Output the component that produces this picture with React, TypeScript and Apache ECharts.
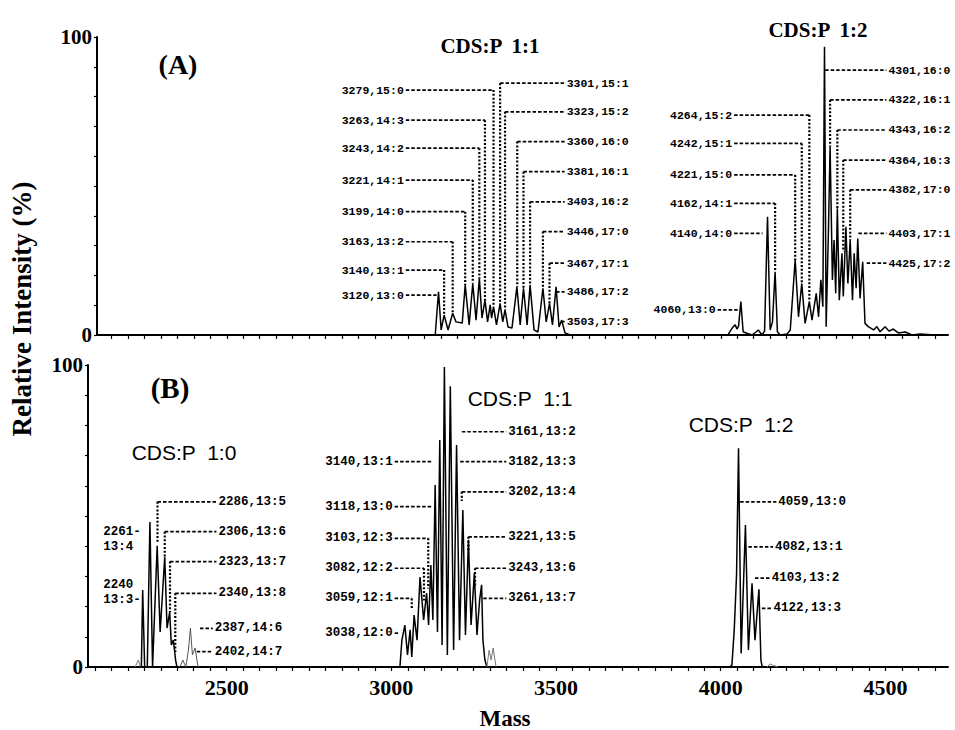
import React, { useEffect, useRef } from 'react';
import * as echarts from 'echarts';

// ---- axis ticks ----
const massTickLabels = [2500, 3000, 3500, 4000, 4500];
const minorMassTicks: number[] = [];
for (let v = 2100; v <= 4650; v += 50) minorMassTicks.push(v);

// ---- Panel (A) spectrum: [mass, relative intensity %] ----
const traceA1 = [
  [3133, 0], [3143, 14.5], [3151, 1.7], [3160, 6.7], [3172, 1.7], [3186, 7.3], [3196, 4.4], [3215, 4.0],
  [3224, 16.8], [3236, 3.4], [3247, 17.3], [3257, 5.0], [3267, 19.0], [3275, 5.7], [3284, 11.7], [3292, 4.4],
  [3300, 10.1], [3304, 5.7], [3310, 9.5], [3319, 3.4], [3330, 10.6], [3338, 4.4], [3345, 8.4], [3354, 2.7],
  [3366, 2.3], [3381, 16.2], [3391, 3.4], [3401, 15.7], [3412, 3.4], [3421, 16.8], [3433, 1.7], [3445, 1.0],
  [3460, 15.7], [3470, 4.4], [3480, 10.6], [3489, 3.4], [3500, 16.2], [3509, 2.7], [3517, 5.0], [3527, 0.7],
  [3543, 0],
];
const traceA2 = [
  [4022, 0], [4031, 1.7], [4038, 2.8], [4044, 3.4], [4049, 2.0], [4054, 3.0], [4061, 11.2], [4068, 1.1],
  [4079, 0.6], [4095, 0], [4107, 1.0], [4114, 1.7], [4125, 0], [4133, 1.3], [4142, 39.7], [4150, 1.7],
  [4157, 4.4], [4165, 21.2], [4172, 1.1], [4180, 0], [4201, 0.3], [4211, 1.7], [4226, 25.2], [4236, 6.1],
  [4246, 17.3], [4256, 3.9], [4269, 11.2], [4277, 5.0], [4290, 14.0], [4297, 6.1], [4304, 18.5], [4310, 9.5],
  [4315, 96.7], [4320, 2.8], [4327, 35.2], [4332, 63.2], [4339, 18.5], [4344, 31.9], [4349, 14.0], [4354, 42.5],
  [4360, 11.7], [4368, 27.4], [4372, 12.9], [4380, 36.3], [4386, 17.3], [4393, 31.9], [4400, 11.7], [4405, 27.4],
  [4411, 15.7], [4416, 32.4], [4423, 12.3], [4431, 24.6], [4438, 3.9], [4448, 2.8], [4464, 1.7], [4474, 2.8],
  [4484, 1.1], [4499, 2.8], [4511, 1.3], [4524, 2.0], [4539, 0.7], [4560, 1.0], [4581, 0], [4605, 0.3], [4651, 0],
];

// ---- Panel (B) spectrum ----
const traceB1 = [
  [2241, 0], [2245, 25.5], [2251, 0], [2259, 0], [2267, 48.0], [2275, 0], [2289, 40.1], [2298, 11.6],
  [2312, 36.4], [2319, 12.9], [2327, 18.2], [2332, 7.3], [2338, 8.9], [2345, 2.3], [2349, 0],
];
const noiseB1a = [[2222, 0], [2232, 2.3], [2238, 0]];
const noiseB1b = [[2358, 0], [2367, 2.3], [2376, 0], [2384, 5.6], [2390, 12.9], [2396, 4.0], [2404, 6.3], [2413, 0]];
const traceB2 = [
  [3026, 0], [3032, 8.9], [3041, 13.9], [3049, 4.0], [3057, 12.3], [3062, 3.3], [3069, 17.2], [3078, 8.9],
  [3087, 29.8], [3098, 15.6], [3107, 24.5], [3113, 13.9], [3120, 33.8], [3126, 15.6], [3133, 60.3], [3140, 11.6],
  [3147, 75.2], [3154, 7.3], [3161, 99.3], [3170, 4.0], [3179, 93.0], [3189, 5.6], [3198, 73.5], [3207, 8.9],
  [3217, 52.0], [3225, 10.6], [3234, 42.1], [3242, 13.9], [3252, 31.1], [3260, 10.6], [3268, 22.2], [3274, 27.2],
  [3278, 8.9], [3284, 2.3], [3290, 0],
];
const noiseB2 = [[3290, 0], [3297, 5.6], [3303, 2.3], [3309, 6.3], [3318, 0]];
const traceB3 = [
  [4028, 0], [4034, 0.7], [4041, 12.3], [4048, 30.5], [4054, 72.4], [4062, 4.5], [4075, 47.0], [4084, 5.6],
  [4095, 27.7], [4104, 8.9], [4116, 25.7], [4122, 2.3], [4126, 0],
];
const noiseB3 = [[4140, 0], [4150, 1.0], [4160, 0.5], [4174, 0]];

// ---- peak annotations: [text, side, textMass, lineIntensity, cornerMass, endIntensity] ----
type Annot = [string, string, number, number, number, number];
const labelsA: Annot[] = [
  ['3279,15:0', 'L', 2849, 82.2, 3310, 9.5],
  ['3263,14:3', 'L', 2849, 72.1, 3284, 11.7],
  ['3243,14:2', 'L', 2849, 62.7, 3267, 19.0],
  ['3221,14:1', 'L', 2849, 52.0, 3247, 17.3],
  ['3199,14:0', 'L', 2849, 41.4, 3224, 16.8],
  ['3163,13:2', 'L', 2849, 31.3, 3186, 7.3],
  ['3140,13:1', 'L', 2849, 21.8, 3160, 6.7],
  ['3120,13:0', 'L', 2849, 13.4, 3137, 13.4],
  ['3301,15:1', 'R', 3532, 84.5, 3330, 10.6],
  ['3323,15:2', 'R', 3532, 74.9, 3345, 8.4],
  ['3360,16:0', 'R', 3532, 64.9, 3382, 16.2],
  ['3381,16:1', 'R', 3532, 54.8, 3401, 15.7],
  ['3403,16:2', 'R', 3532, 44.7, 3421, 16.8],
  ['3446,17:0', 'R', 3532, 34.7, 3460, 15.7],
  ['3467,17:1', 'R', 3532, 24.1, 3480, 10.6],
  ['3486,17:2', 'R', 3532, 14.5, 3500, 14.5],
  ['3503,17:3', 'R', 3532, 4.5, 3517, 4.5],
  ['4264,15:2', 'L', 3846, 73.8, 4269, 11.2],
  ['4242,15:1', 'L', 3846, 64.3, 4246, 17.3],
  ['4221,15:0', 'L', 3846, 53.7, 4226, 25.2],
  ['4162,14:1', 'L', 3846, 44.2, 4165, 21.2],
  ['4140,14:0', 'L', 3846, 34.1, 4127, 34.1],
  ['4060,13:0', 'L', 3796, 8.4, 4054, 8.4],
  ['4301,16:0', 'R', 4509, 88.9, 4317, 88.9],
  ['4322,16:1', 'R', 4509, 78.9, 4332, 63.2],
  ['4343,16:2', 'R', 4509, 68.8, 4354, 42.5],
  ['4364,16:3', 'R', 4509, 58.7, 4372, 28.0],
  ['4382,17:0', 'R', 4509, 48.7, 4393, 31.9],
  ['4403,17:1', 'R', 4509, 34.1, 4418, 34.1],
  ['4425,17:2', 'R', 4509, 24.1, 4443, 24.1],
];
const labelsB: Annot[] = [
  ['2261-', 'T', 2125, 44.8, 0, 0],
  ['13:4', 'T', 2125, 39.8, 0, 0],
  ['2240', 'T', 2125, 27.2, 0, 0],
  ['13:3-', 'T', 2125, 22.2, 0, 0],
  ['2286,13:5', 'R', 2475, 54.7, 2290, 41],
  ['2306,13:6', 'R', 2475, 44.8, 2312, 36.4],
  ['2323,13:7', 'R', 2475, 34.9, 2328, 18.2],
  ['2340,13:8', 'R', 2475, 24.4, 2344, 5],
  ['2387,14:6', 'R', 2464, 12.8, 2419, 12.8],
  ['2402,14:7', 'R', 2464, 5.1, 2409, 5.1],
  ['3140,13:1', 'L', 2799, 68.0, 3127, 68.0],
  ['3118,13:0', 'L', 2799, 53.1, 3127, 53.1],
  ['3103,12:3', 'L', 2799, 42.6, 3112, 26],
  ['3082,12:2', 'L', 2799, 32.7, 3099, 22],
  ['3059,12:1', 'L', 2799, 22.7, 3062, 19],
  ['3038,12:0', 'L', 2799, 11.2, 3021, 11.2],
  ['3161,13:2', 'R', 3355, 77.9, 3214, 77.9],
  ['3182,13:3', 'R', 3355, 68.0, 3209, 68.0],
  ['3202,13:4', 'R', 3355, 58.0, 3214, 55],
  ['3221,13:5', 'R', 3355, 43.1, 3234, 38],
  ['3243,13:6', 'R', 3355, 32.7, 3254, 27],
  ['3261,13:7', 'R', 3355, 22.7, 3279, 22.7],
  ['4059,13:0', 'R', 4175, 54.7, 4059, 54.7],
  ['4082,13:1', 'R', 4165, 39.8, 4084, 39.8],
  ['4103,13:2', 'R', 4155, 29.4, 4104, 29.4],
  ['4122,13:3', 'R', 4160, 19.4, 4125, 19.4],
];

const SERIF = '"Liberation Serif", "DejaVu Serif", serif';
const SANS = '"Liberation Sans", Arial, sans-serif';
const MONO = '"Liberation Mono", "DejaVu Sans Mono", monospace';

function annotSeries(list: Annot[], fs: number, idx: number) {
  return {
    type: 'custom',
    xAxisIndex: idx,
    yAxisIndex: idx,
    clip: false,
    silent: true,
    z: 5,
    data: list.map((a) => [a[2], a[3]]),
    renderItem: (params: any, api: any) => {
      const [text, side, tx, ty, cx, end] = list[params.dataIndex];
      const p = api.coord([tx, ty]);
      const children: any[] = [
        {
          type: 'text',
          x: p[0],
          y: p[1],
          style: { text, fontFamily: MONO, fontWeight: 'bold', fontSize: fs, fill: '#000', align: 'left', verticalAlign: 'middle' },
        },
      ];
      if (side !== 'T') {
        const c = api.coord([cx, ty]);
        const w = text.length * fs * 0.6;
        const x1 = side === 'L' ? p[0] + w + 2 : c[0];
        const x2 = side === 'L' ? c[0] : p[0] - 2;
        if (x2 > x1) {
          children.push({
            type: 'line',
            shape: { x1, y1: p[1], x2, y2: p[1] },
            style: { stroke: '#000', lineWidth: 1.7, lineDash: [3.5, 2] },
          });
        }
        if (end < ty - 0.5) {
          const e = api.coord([cx, end]);
          children.push({
            type: 'line',
            shape: { x1: c[0], y1: p[1], x2: c[0], y2: e[1] },
            style: { stroke: '#000', lineWidth: 2.2, lineDash: [2, 1.8] },
          });
        }
      }
      return { type: 'group', children };
    },
  };
}

function lineSeries(data: number[][], idx: number, color = '#000', width = 1.5) {
  return {
    type: 'line',
    xAxisIndex: idx,
    yAxisIndex: idx,
    data,
    showSymbol: false,
    symbol: 'none',
    lineStyle: { color, width },
    silent: true,
    z: 3,
  };
}

function yAxisCfg(idx: number) {
  return {
    type: 'value',
    gridIndex: idx,
    min: 0,
    max: 100,
    interval: 10,
    axisLine: { show: true, lineStyle: { color: '#000', width: 2 } },
    axisTick: { show: true, length: 3, lineStyle: { color: '#000', width: 1.2 } },
    axisLabel: {
      formatter: (v: number) => (v === 0 || v === 100 ? String(v) : ''),
      fontFamily: SERIF,
      fontWeight: 'bold',
      fontSize: 21,
      color: '#000',
      margin: 5,
    },
    splitLine: { show: false },
  };
}

function xAxisCfg(idx: number, min: number, max: number, showLabels: boolean) {
  return {
    type: 'value',
    gridIndex: idx,
    min,
    max,
    axisLine: { show: true, onZero: false, lineStyle: { color: '#000', width: 2 } },
    axisTick: {
      show: true,
      length: 4,
      customValues: minorMassTicks.filter((v) => v > min && v < max),
      lineStyle: { color: '#000', width: 1.2 },
    },
    axisLabel: showLabels
      ? {
          show: true,
          customValues: massTickLabels,
          formatter: (v: number) => String(v),
          fontFamily: SERIF,
          fontWeight: 'bold',
          fontSize: 22,
          color: '#000',
          margin: 9,
        }
      : { show: false },
    splitLine: { show: false },
  };
}

export default function App() {
  const ref = useRef<HTMLDivElement>(null);
  useEffect(() => {
    if (!ref.current) return;
    const chart = echarts.init(ref.current, undefined, { renderer: 'svg' });
    const titleText = (text: string, x: number, y: number, size: number, family: string, weight: string) => ({
      type: 'text',
      x,
      y,
      silent: true,
      style: { text, fontFamily: family, fontWeight: weight, fontSize: size, fill: '#000', align: 'center', verticalAlign: 'middle' },
    });
    chart.setOption({
      animation: false,
      backgroundColor: '#fff',
      grid: [
        { left: 97, top: 37, width: 851, height: 298 },
        { left: 88, top: 365, width: 860, height: 302 },
      ],
      xAxis: [xAxisCfg(0, 2106, 4690, false), xAxisCfg(1, 2079, 4690, true)],
      yAxis: [yAxisCfg(0), yAxisCfg(1)],
      series: [
        lineSeries(traceA1, 0),
        lineSeries(traceA2, 0),
        lineSeries(noiseB1a, 1, '#777', 1),
        lineSeries(traceB1, 1),
        lineSeries(noiseB1b, 1, '#555', 1),
        lineSeries(traceB2, 1),
        lineSeries(noiseB2, 1, '#777', 1),
        lineSeries(traceB3, 1),
        lineSeries(noiseB3, 1, '#777', 1),
        annotSeries(labelsA, 11.5, 0),
        annotSeries(labelsB, 12.5, 1),
      ],
      graphic: [
        titleText('(A)', 178, 64, 28, SERIF, 'bold'),
        titleText('CDS:P  1:1', 490, 46, 21, SERIF, 'bold'),
        titleText('CDS:P  1:2', 818, 30, 21, SERIF, 'bold'),
        titleText('(B)', 170, 388, 29, SERIF, 'bold'),
        titleText('CDS:P  1:0', 184, 452, 21, SANS, 'normal'),
        titleText('CDS:P  1:1', 520, 398, 21, SANS, 'normal'),
        titleText('CDS:P  1:2', 741, 424, 21, SANS, 'normal'),
        titleText('Mass', 505, 718, 23, SERIF, 'bold'),
        {
          type: 'text',
          x: 22,
          y: 309,
          rotation: Math.PI / 2,
          silent: true,
          style: {
            text: 'Relative Intensity (%)',
            fontFamily: SERIF,
            fontWeight: 'bold',
            fontSize: 27,
            fill: '#000',
            align: 'center',
            verticalAlign: 'middle',
          },
        },
      ],
    });
    return () => chart.dispose();
  }, []);
  return <div ref={ref} style={{ position: 'fixed', left: 0, top: 0, width: 955, height: 730, background: '#fff' }} />;
}
